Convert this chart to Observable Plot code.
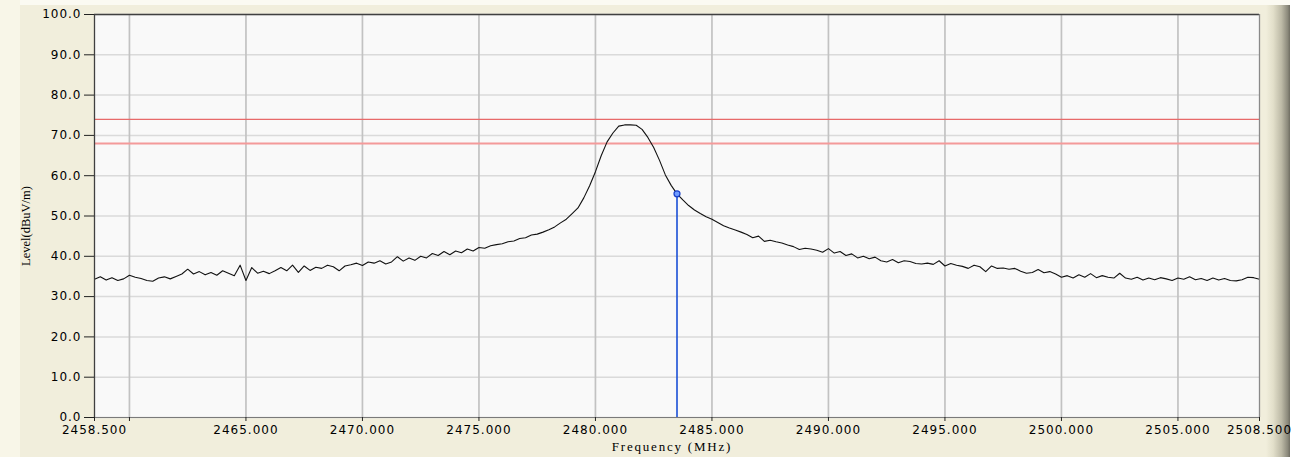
<!DOCTYPE html>
<html>
<head>
<meta charset="utf-8">
<script src="https://cdn.jsdelivr.net/npm/d3@7"></script>
<script src="https://cdn.jsdelivr.net/npm/@observablehq/plot@0.6"></script>
<style>
  html, body { margin: 0; padding: 0; overflow: hidden; }
  body { width: 1293px; height: 457px; background: #f1eedc; position: relative; font-family: "DejaVu Sans", sans-serif; }
  #topstrip { position: absolute; left: 0; top: 0; width: 1293px; height: 5px; background: #fbfaf2; }
  #leftstrip { position: absolute; left: 0; top: 0; width: 20px; height: 457px; background: #f8f6e8; }
  #chart { position: absolute; left: 0; top: 0; }
  #rightbar { position: absolute; left: 1266px; top: 5px; width: 24px; height: 452px;
    background: linear-gradient(to right, #f1eedc 0%, #e2dfca 30%, #bcb9a6 65%, #8c8a7c 90%, #6f6d62 100%); }
  #rightedge { position: absolute; left: 1290px; top: 0; width: 3px; height: 457px; background: #ffffff; }
  #ytitle { position: absolute; left: 26px; top: 226px; transform: translate(-50%, -50%) rotate(-90deg);
    font-family: "Liberation Serif", serif; font-size: 12.5px; color: #000; white-space: nowrap; }
  #xtitle { position: absolute; left: 672px; top: 439px; transform: translateX(-50%);
    font-family: "Liberation Serif", serif; font-size: 13px; letter-spacing: 1.8px; color: #000; white-space: nowrap; }
  g[aria-label="x-axis tick label"] text, g[aria-label="y-axis tick label"] text { letter-spacing: 1px; }
</style>
</head>
<body>
<div id="topstrip"></div>
<div id="leftstrip"></div>
<div id="rightbar"></div>
<div id="rightedge"></div>
<div id="chart"></div>
<div id="ytitle">Level(dBuV/m)</div>
<div id="xtitle">Frequency (MHz)</div>
<script>
// Sweep definition (MHz)
const startMHz = 2458.5;
const stepMHz = 0.25;
const levels = [
  34.3, 34.9, 34.1, 34.7,
  34.0, 34.4, 35.3, 34.8,
  34.5, 34.0, 33.8, 34.6,
  34.9, 34.4, 35.0, 35.6,
  36.8, 35.6, 36.2, 35.4,
  36.0, 35.3, 36.4, 35.8,
  35.2, 37.8, 34.0, 37.2,
  35.8, 36.3, 35.7, 36.4,
  37.2, 36.4, 37.8, 36.0,
  37.6, 36.5, 37.3, 37.0,
  37.8, 37.4, 36.4, 37.6,
  37.9, 38.3, 37.7, 38.6,
  38.3, 38.9, 38.1, 38.6,
  39.9, 38.8, 39.6, 39.0,
  40.0, 39.6, 40.7, 40.2,
  41.2, 40.4, 41.3, 40.9,
  41.8, 41.3, 42.2, 42.0,
  42.6, 42.9, 43.1, 43.6,
  43.8, 44.4, 44.6, 45.3,
  45.5, 46.0, 46.6, 47.3,
  48.3, 49.2, 50.6, 52.0,
  54.5, 57.5, 61.0, 65.0,
  68.4, 70.6, 72.3, 72.6,
  72.6, 72.5, 71.5, 69.5,
  67.0, 63.8, 60.2, 57.6,
  55.5, 54.0, 52.6, 51.5,
  50.6, 49.8, 49.2, 48.4,
  47.6, 47.0, 46.5, 46.0,
  45.4, 44.6, 45.0, 43.7,
  44.0, 43.6, 43.3, 42.8,
  42.4, 41.7, 42.0, 41.8,
  41.5, 41.0, 41.9, 40.8,
  41.2, 40.2, 40.6, 39.6,
  40.0, 39.4, 39.8, 38.9,
  38.6, 39.2, 38.4, 38.9,
  38.7, 38.2, 38.1, 38.3,
  38.0, 38.9, 37.6, 38.2,
  37.8, 37.5, 37.0, 37.8,
  37.4, 36.2, 37.6, 37.0,
  37.1, 36.8, 37.0, 36.3,
  35.8, 36.0, 36.7, 35.9,
  36.2, 35.6, 34.8, 35.2,
  34.6, 35.4, 34.8, 35.7,
  34.7, 35.2, 34.8, 34.6,
  35.8, 34.6, 34.3, 34.8,
  34.1, 34.6, 34.2, 34.7,
  34.4, 34.0, 34.6, 34.3,
  34.9, 34.2, 34.5, 34.0,
  34.6, 34.1, 34.5, 34.0,
  33.9, 34.2, 34.8, 34.7,
  34.3
];
const xDomain = [2458.5, 2508.5];
const xTicks = [2458.5, 2460, 2465, 2470, 2475, 2480, 2485, 2490, 2495, 2500, 2505, 2508.5];
const xGrid = [2460, 2465, 2470, 2475, 2480, 2485, 2490, 2495, 2500, 2505];
const yTicks = [0, 10, 20, 30, 40, 50, 60, 70, 80, 90, 100];
const limits = [74, 68];
const marker = {freq: 2483.5, level: 55.5};

const trace = levels.map((v, i) => ({freq: startMHz + i * stepMHz, level: v}));

const chart = Plot.plot({
  width: 1293,
  height: 457,
  marginLeft: 94,
  marginRight: 34,
  marginTop: 14,
  marginBottom: 40,
  style: {background: "transparent", fontFamily: "DejaVu Sans, sans-serif", fontSize: "12px", color: "#000"},
  x: {domain: xDomain, label: null},
  y: {domain: [0, 100], label: null},
  marks: [
    Plot.frame({fill: "#f9f9f9", stroke: null}),
    Plot.gridY(yTicks, {stroke: "#dadada", strokeOpacity: 1, strokeWidth: 1.5}),
    Plot.gridX(xGrid, {stroke: "#c2c2c2", strokeOpacity: 1, strokeWidth: 1.7}),
    Plot.ruleY([limits[0]], {stroke: "#e86a6a", strokeWidth: 1.2}),
    Plot.ruleY([limits[1]], {stroke: "#f49a9a", strokeWidth: 2}),
    Plot.line(trace, {x: "freq", y: "level", stroke: "#111", strokeWidth: 1.1}),
    Plot.ruleX([marker], {x: "freq", y1: 0, y2: "level", stroke: "#1a4fd6", strokeWidth: 1.6}),
    Plot.dot([marker], {x: "freq", y: "level", r: 3, fill: "#6f9cff", stroke: "#1a40c8", strokeWidth: 1.2}),
    Plot.ruleX([xDomain[0]], {stroke: "#404040", strokeWidth: 1.3}),
    Plot.ruleY([100], {stroke: "#404040", strokeWidth: 1.3}),
    Plot.ruleY([0], {stroke: "#7a7a7a", strokeWidth: 1}),
    Plot.ruleX([xDomain[1]], {stroke: "#8a8a8a", strokeWidth: 1.3}),
    Plot.axisX(xTicks, {tickSize: 4, tickPadding: 4, stroke: "#222", fill: "#000", fontSize: 12,
      tickFormat: d => d === 2460 ? "" : d.toFixed(3)}),
    Plot.axisY(yTicks, {tickSize: 10, tickPadding: 3, stroke: "#222", fill: "#000", fontSize: 12,
      tickFormat: d => d.toFixed(1)})
  ]
});
document.getElementById("chart").appendChild(chart);
</script>
</body>
</html>
